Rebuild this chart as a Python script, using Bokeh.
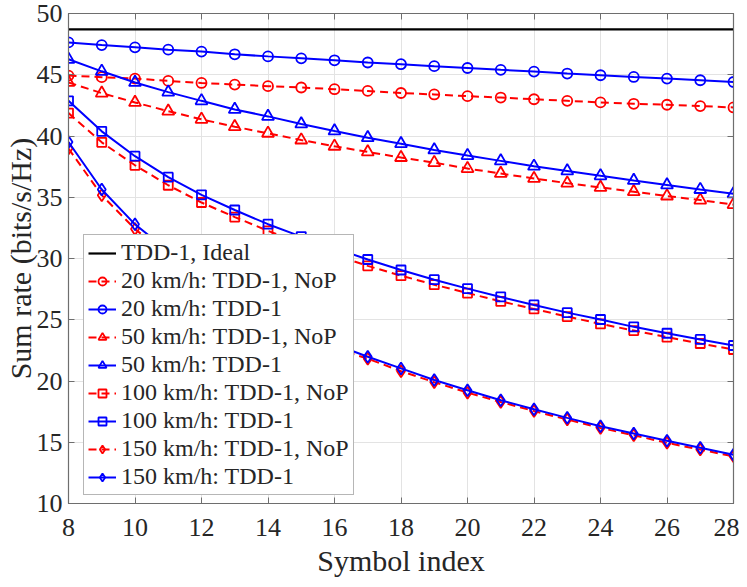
from bokeh.plotting import figure
from bokeh.models import (LinearAxis, Range1d, FixedTicker, Legend, LegendItem,
                          CustomLabelingPolicy)
from bokeh.embed import file_html
from bokeh.resources import INLINE

symbol_index = list(range(8, 29))
ideal = [48.7] * 21
tdd20 = [47.64, 47.42, 47.24, 47.05, 46.89, 46.67, 46.5, 46.34, 46.18, 46.0, 45.86,
         45.7, 45.55, 45.4, 45.26, 45.1, 44.96, 44.82, 44.69, 44.55, 44.41]
nop20 = [44.93, 44.8, 44.69, 44.5, 44.33, 44.2, 44.07, 43.96, 43.82, 43.68, 43.51,
         43.39, 43.25, 43.14, 43.0, 42.87, 42.74, 42.63, 42.55, 42.44, 42.33]
tdd50 = [46.26, 45.28, 44.37, 43.58, 42.87, 42.17, 41.6, 40.98, 40.41, 39.86, 39.37,
         38.86, 38.4, 37.97, 37.53, 37.15, 36.75, 36.37, 36.0, 35.63, 35.28]
nop50 = [44.37, 43.5, 42.74, 42.03, 41.36, 40.76, 40.22, 39.67, 39.16, 38.7, 38.24,
         37.83, 37.34, 36.94, 36.53, 36.15, 35.8, 35.45, 35.1, 34.77, 34.4]
tdd100 = [42.87, 40.38, 38.35, 36.64, 35.2, 33.96, 32.8, 31.79, 30.85, 29.92, 29.06,
          28.27, 27.54, 26.86, 26.21, 25.58, 25.02, 24.42, 23.9, 23.39, 22.9]
nop100 = [41.87, 39.48, 37.61, 35.98, 34.57, 33.38, 32.26, 31.2, 30.28, 29.4, 28.6,
          27.86, 27.18, 26.5, 25.88, 25.26, 24.66, 24.12, 23.58, 23.06, 22.57]
tdd150 = [39.51, 35.63, 32.79, 30.6, 28.7, 27.0, 25.5, 24.2, 23.0, 21.98, 21.03,
          20.08, 19.24, 18.43, 17.7, 16.99, 16.31, 15.72, 15.12, 14.55, 13.98]
nop150 = [38.97, 35.17, 32.41, 30.2, 28.3, 26.6, 25.1, 23.8, 22.7, 21.82, 20.8,
          19.9, 19.05, 18.28, 17.55, 16.85, 16.17, 15.57, 14.95, 14.4, 13.85]

x_ticks = [8, 10, 12, 14, 16, 18, 20, 22, 24, 26, 28]
y_ticks = [10, 15, 20, 25, 30, 35, 40, 45, 50]

FONT = "Liberation Serif"
AXC = "#6e6e6e"
TXT = "#262626"

p = figure(width=739, height=579, output_backend="svg",
           toolbar_location=None, x_range=Range1d(8, 28), y_range=Range1d(10, 50),
           min_border_left=67, min_border_right=6, min_border_top=13, min_border_bottom=72)
p.outline_line_color = AXC
p.outline_line_width = 1.2

for ax in (p.xaxis[0], p.yaxis[0]):
    ax.axis_line_color = AXC
    ax.major_tick_line_color = AXC
    ax.major_tick_in = 6
    ax.major_tick_out = 0
    ax.minor_tick_line_color = None
    ax.major_label_text_font = FONT
    ax.major_label_text_font_size = "26px"
    ax.major_label_text_color = TXT
    ax.axis_label_text_font = FONT
    ax.axis_label_text_font_size = "30px"
    ax.axis_label_text_font_style = "normal"
    ax.axis_label_text_color = TXT

p.xaxis.ticker = FixedTicker(ticks=x_ticks)
p.yaxis.ticker = FixedTicker(ticks=y_ticks)
p.xaxis.axis_label = "Symbol index"
p.yaxis.axis_label = "Sum rate (bits/s/Hz)"
p.xaxis.major_label_standoff = 15
p.yaxis.major_label_standoff = 6
p.xaxis.axis_label_standoff = 5
p.yaxis.axis_label_standoff = -3

no_labels = CustomLabelingPolicy(code="""
for (const i of indices) indices.unset(i)
return indices
""")
for loc in ("above", "right"):
    ax = LinearAxis(ticker=FixedTicker(ticks=x_ticks if loc == "above" else y_ticks),
                    major_label_policy=no_labels, major_label_standoff=0,
                    major_label_text_font_size="1px",
                    axis_line_color=AXC, major_tick_line_color=AXC,
                    major_tick_in=6, major_tick_out=0, minor_tick_line_color=None)
    p.add_layout(ax, loc)

p.grid.grid_line_color = "#e3e3e3"
p.grid.grid_line_width = 1
p.xgrid.ticker = FixedTicker(ticks=x_ticks)
p.ygrid.ticker = FixedTicker(ticks=y_ticks)

items = []
r = p.line(symbol_index, ideal, line_color="black", line_width=2.2)
items.append(LegendItem(label="TDD-1, Ideal", renderers=[r]))

series = [
    ("20 km/h: TDD-1, NoP", nop20, "red", "dashed", "circle", 10),
    ("20 km/h: TDD-1", tdd20, "blue", "solid", "circle", 10),
    ("50 km/h: TDD-1, NoP", nop50, "red", "dashed", "triangle", 12),
    ("50 km/h: TDD-1", tdd50, "blue", "solid", "triangle", 12),
    ("100 km/h: TDD-1, NoP", nop100, "red", "dashed", "square", 9),
    ("100 km/h: TDD-1", tdd100, "blue", "solid", "square", 9),
    ("150 km/h: TDD-1, NoP", nop150, "red", "dashed", "diamond", 12),
    ("150 km/h: TDD-1", tdd150, "blue", "solid", "diamond", 12),
]
for label, vals, col, dash, mk, sz in series:
    ln = p.line(symbol_index, vals, line_color=col, line_width=2,
                line_dash="8 5" if dash == "dashed" else "solid")
    sc = p.scatter(symbol_index, vals, marker=mk, size=sz, line_color=col,
                   line_width=1.8, fill_alpha=0)
    items.append(LegendItem(label=label, renderers=[ln, sc]))

legend = Legend(items=items, location=(15, 8))
legend.label_text_font = FONT
legend.label_text_font_size = "24px"
legend.label_text_color = TXT
legend.label_height = 24
legend.glyph_height = 20
legend.glyph_width = 28
legend.spacing = 1
legend.padding = 4
legend.margin = 0
legend.label_standoff = 5
legend.border_line_color = AXC
legend.border_line_width = 1.2
legend.background_fill_alpha = 1
p.add_layout(legend, "center")

open("out.html", "w").write(file_html(p, INLINE))
